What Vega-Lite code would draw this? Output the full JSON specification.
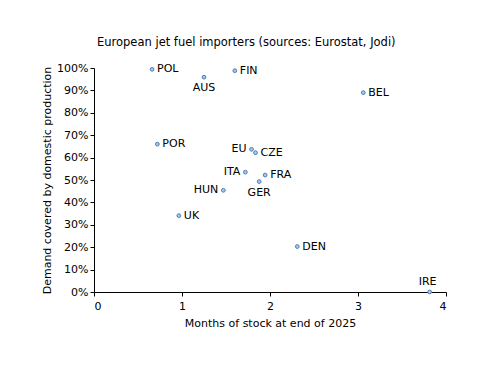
{
  "$schema": "https://vega.github.io/schema/vega-lite/v6.json",
  "autosize": {"type": "none"},
  "width": 352,
  "height": 224,
  "padding": {"left": 94, "top": 68, "right": 54, "bottom": 94},
  "background": "white",
  "config": {
    "font": "DejaVu Sans",
    "view": {"stroke": null},
    "axis": {"grid": false, "domainColor": "#000000", "tickColor": "#000000", "labelColor": "#000000", "titleColor": "#000000", "labelFont": "DejaVu Sans", "titleFont": "DejaVu Sans", "labelFontSize": 11, "titleFontSize": 11, "titleFontWeight": "normal", "tickSize": 4}
  },
  "title": {"text": "European jet fuel importers (sources: Eurostat, Jodi)", "anchor": "start", "frame": "group", "dx": 3, "offset": 14, "fontSize": 11.5, "fontWeight": "normal", "font": "DejaVu Sans", "color": "#000000"},
  "data": {"values": [
    {"c": "POL", "x": 0.66, "y": 0.994},
    {"c": "AUS", "x": 1.25, "y": 0.959},
    {"c": "FIN", "x": 1.60, "y": 0.988},
    {"c": "BEL", "x": 3.06, "y": 0.89},
    {"c": "POR", "x": 0.72, "y": 0.66},
    {"c": "EU", "x": 1.79, "y": 0.637},
    {"c": "CZE", "x": 1.835, "y": 0.622},
    {"c": "ITA", "x": 1.72, "y": 0.535},
    {"c": "FRA", "x": 1.945, "y": 0.522},
    {"c": "GER", "x": 1.877, "y": 0.493},
    {"c": "HUN", "x": 1.47, "y": 0.454},
    {"c": "UK", "x": 0.964, "y": 0.341},
    {"c": "DEN", "x": 2.31, "y": 0.203},
    {"c": "IRE", "x": 3.814, "y": 0.0}
  ]},
  "encoding": {
    "x": {"field": "x", "type": "quantitative", "scale": {"domain": [0, 4], "nice": false}, "axis": {"values": [0, 1, 2, 3, 4], "title": "Months of stock at end of 2025", "titlePadding": 6, "labelPadding": 4}},
    "y": {"field": "y", "type": "quantitative", "scale": {"domain": [0, 1], "nice": false}, "axis": {"values": [0, 0.1, 0.2, 0.3, 0.4, 0.5, 0.6, 0.7, 0.8, 0.9, 1], "format": ".0%", "title": "Demand covered by domestic production", "titlePadding": 4}}
  },
  "layer": [
    {"mark": {"type": "point", "filled": true, "size": 14, "fill": "#a9c8e8", "stroke": "#4a7ebb", "strokeWidth": 1, "opacity": 1}},
    {"transform": [{"filter": {"field": "c", "oneOf": ["POL", "FIN", "BEL", "POR", "CZE", "FRA", "UK", "DEN"]}}],
     "mark": {"type": "text", "align": "left", "baseline": "middle", "dx": 5, "fontSize": 11, "color": "#000000"},
     "encoding": {"text": {"field": "c"}}},
    {"transform": [{"filter": {"field": "c", "oneOf": ["EU", "ITA", "HUN"]}}],
     "mark": {"type": "text", "align": "right", "baseline": "middle", "dx": -5, "fontSize": 11, "color": "#000000"},
     "encoding": {"text": {"field": "c"}}},
    {"transform": [{"filter": {"field": "c", "oneOf": ["AUS", "GER"]}}],
     "mark": {"type": "text", "align": "center", "baseline": "top", "dy": 5, "fontSize": 11, "color": "#000000"},
     "encoding": {"text": {"field": "c"}}},
    {"transform": [{"filter": {"field": "c", "oneOf": ["IRE"]}}],
     "mark": {"type": "text", "align": "center", "baseline": "bottom", "dy": -5, "dx": -2, "fontSize": 11, "color": "#000000"},
     "encoding": {"text": {"field": "c"}}}
  ]
}
